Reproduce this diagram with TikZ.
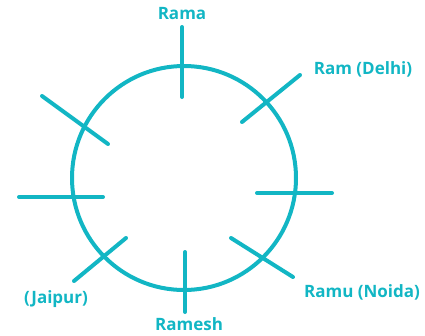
\documentclass[tikz,border=0pt]{standalone}
\usepackage{fontspec}
\setmainfont{Open Sans}
\definecolor{teal1}{RGB}{18,182,196}
\begin{document}
\begin{tikzpicture}[x=1pt,y=-1pt,
  ring/.style={draw=teal1,line width=4pt,circle,minimum size=224pt,inner sep=0pt},
  tick/.style={draw=teal1,line width=4pt,line cap=round},
  lbl/.style={text=teal1,font=\bfseries\fontsize{17}{19}\selectfont,inner sep=0pt}]
\useasboundingbox (0,0) rectangle (425,335);
\node[ring] (c) at (184,178) {};
% ticks
\coordinate (t1a) at (182,27); \coordinate (t1b) at (182,97);
\coordinate (t2a) at (242,122); \coordinate (t2b) at (300,75);
\coordinate (t3a) at (257,193); \coordinate (t3b) at (332,193);
\coordinate (t4a) at (231,238); \coordinate (t4b) at (293,277);
\coordinate (t5a) at (185,252); \coordinate (t5b) at (185,312);
\coordinate (t6a) at (126,238); \coordinate (t6b) at (74,281);
\coordinate (t7a) at (19,197); \coordinate (t7b) at (103,197);
\coordinate (t8a) at (42,96); \coordinate (t8b) at (108,144);
\foreach \i in {1,...,8} {\draw[tick] (t\i a) -- (t\i b);}
\node[lbl] (rama) at (182,14) {Rama};
\node[lbl] (delhi) at (363,69) {Ram (Delhi)};
\node[lbl] (noida) at (362,292) {Ramu (Noida)};
\node[lbl] (jaipur) at (56,299) {(Jaipur)};
\node[lbl] (ramesh) at (189,324) {Ramesh};
\end{tikzpicture}
\end{document}
